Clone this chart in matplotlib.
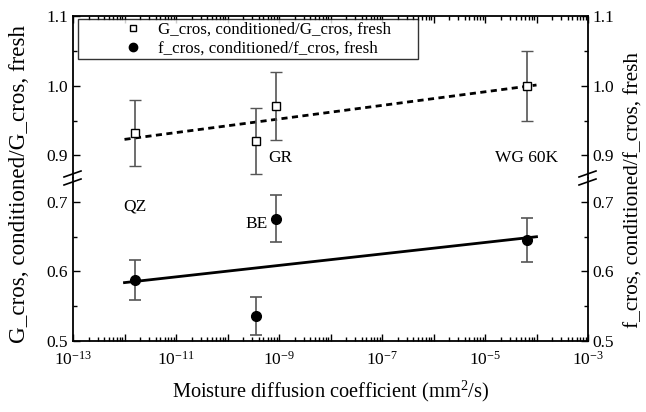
import matplotlib
matplotlib.use("Agg")
import matplotlib.pyplot as plt
import numpy as np
from matplotlib.lines import Line2D
from matplotlib.legend_handler import HandlerLine2D
from matplotlib.ticker import LogLocator, FuncFormatter, MultipleLocator, FormatStrFormatter, NullFormatter

plt.rcParams['font.family'] = ['Liberation Serif', 'DejaVu Serif']
plt.rcParams['mathtext.fontset'] = 'custom'
plt.rcParams['mathtext.rm'] = 'Liberation Serif'
plt.rcParams['mathtext.it'] = 'Liberation Serif:italic'

# data
materials = ["QZ", "GR", "BE", "WG 60K"]
diff_coef = [1.6e-12, 3.5e-10, 8.7e-10, 6.6e-5]
g_ratio = [0.932, 0.921, 0.971, 1.000]
g_err = [0.047, 0.047, 0.049, 0.050]
f_ratio = [0.588, 0.536, 0.676, 0.645]
f_err = [0.029, 0.027, 0.034, 0.032]
fit_x = [1e-12, 1e-4]
g_fit = [0.923, 1.001]
f_fit = [0.584, 0.650]

W, H = 646, 412
fig = plt.figure(figsize=(W / 100, H / 100), dpi=100)

left, right, top, brk, bottom = 73, 588, 16, 178, 341
ax_top = fig.add_axes([left / W, 1 - brk / H, (right - left) / W, (brk - top) / H])
ax_bot = fig.add_axes([left / W, 1 - bottom / H, (right - left) / W, (bottom - brk) / H])

ecol = '#555555'
for ax in (ax_top, ax_bot):
    ax.errorbar(diff_coef, g_ratio, yerr=g_err, fmt='s', mfc='white', mec='black',
                ms=6, mew=1, ecolor=ecol, elinewidth=1.2, capsize=4, capthick=1.2, zorder=3)
    ax.errorbar(diff_coef, f_ratio, yerr=f_err, fmt='o', mfc='black', mec='black',
                ms=7, ecolor=ecol, elinewidth=1.2, capsize=4, capthick=1.2, zorder=3)
    ax.plot(fit_x, g_fit, color='black', lw=2, ls=(0, (2.2, 1.6)), zorder=2)
    ax.plot(fit_x, f_fit, color='black', lw=2, ls='-', zorder=2)
    ax.set_xscale('log')
    ax.set_xlim(1e-13, 1e-3)
    ax.xaxis.set_major_locator(LogLocator(base=10, numticks=20))
    ax.xaxis.set_minor_locator(LogLocator(base=10, subs=np.arange(2, 10), numticks=20))
    ax.xaxis.set_minor_formatter(NullFormatter())
    ax.yaxis.set_major_locator(MultipleLocator(0.1))
    ax.yaxis.set_minor_locator(MultipleLocator(0.05))
    ax.yaxis.set_major_formatter(FormatStrFormatter('%.1f'))
    ax.tick_params(axis='both', which='both', direction='in', labelsize=12.5,
                   left=True, right=True, labelleft=True, labelright=True)
    ax.tick_params(axis='both', which='major', length=5, width=1)
    ax.tick_params(axis='both', which='minor', length=3, width=1)
    ax.tick_params(axis='x', which='major', pad=7)
    for s in ax.spines.values():
        s.set_linewidth(1.3)

ax_top.set_ylim(0.8676, 1.1)
ax_bot.set_ylim(0.5, 0.7345)
ax_top.spines['bottom'].set_visible(False)
ax_bot.spines['top'].set_visible(False)
ax_top.tick_params(axis='x', which='both', bottom=False, top=True, labelbottom=False)
ax_bot.tick_params(axis='x', which='both', bottom=True, top=False)


def xfmt(v, pos):
    e = int(round(np.log10(v)))
    if e % 2 == 0:
        return ''
    return r'$\mathregular{10^{%d}}$' % e


ax_bot.xaxis.set_major_formatter(FuncFormatter(xfmt))
ax_bot.set_xlabel(r'Moisture diffusion coefficient (mm$\mathregular{^2}$/s)', fontsize=14.7, labelpad=7)

# material labels
ax_bot.text(1.6e-12, 0.694, materials[0], ha='center', va='center', fontsize=12.5)
ax_bot.text(3.7e-10, 0.668, materials[2], ha='center', va='center', fontsize=12.5)
ax_top.text(1.05e-9, 0.897, materials[1], ha='center', va='center', fontsize=12.5)
ax_top.text(6.5e-5, 0.897, materials[3], ha='center', va='center', fontsize=12.5)

fig.text(20 / W, 1 - 184 / H, 'G_cros, conditioned/G_cros, fresh', rotation=90,
         ha='center', va='center', fontsize=16.6)
fig.text(634 / W, 1 - 190 / H, 'f_cros, conditioned/f_cros, fresh', rotation=90,
         ha='center', va='center', fontsize=15.3)

# axis break marks
for xp in (left, right):
    for dy in (-4, 4):
        yc = brk + dy
        fig.add_artist(Line2D([(xp - 9) / W, (xp + 8) / W],
                              [1 - (yc + 3) / H, 1 - (yc - 3) / H],
                              color='black', lw=1.2, transform=fig.transFigure))

handles = [Line2D([], [], ls='none', marker='s', mfc='white', mec='black', ms=5),
           Line2D([], [], ls='none', marker='o', mfc='black', mec='black', ms=6)]
aw = right - left
ah = brk - top
leg = ax_top.legend(handles, ['G_cros, conditioned/G_cros, fresh',
                              'f_cros, conditioned/f_cros, fresh'],
                    loc='upper left', mode='expand',
                    bbox_to_anchor=(5 / aw, 0, (418 - 78) / aw, 1 - 3 / ah),
                    fontsize=12.2, frameon=True, fancybox=False, edgecolor='black',
                    borderpad=0.15, handlelength=4.3, handletextpad=0.3, labelspacing=0.2,
                    borderaxespad=0,
                    handler_map={Line2D: HandlerLine2D(numpoints=1, xpad=1.9)})
leg.get_frame().set_linewidth(1.0)

fig.savefig('out.png', dpi=100)
